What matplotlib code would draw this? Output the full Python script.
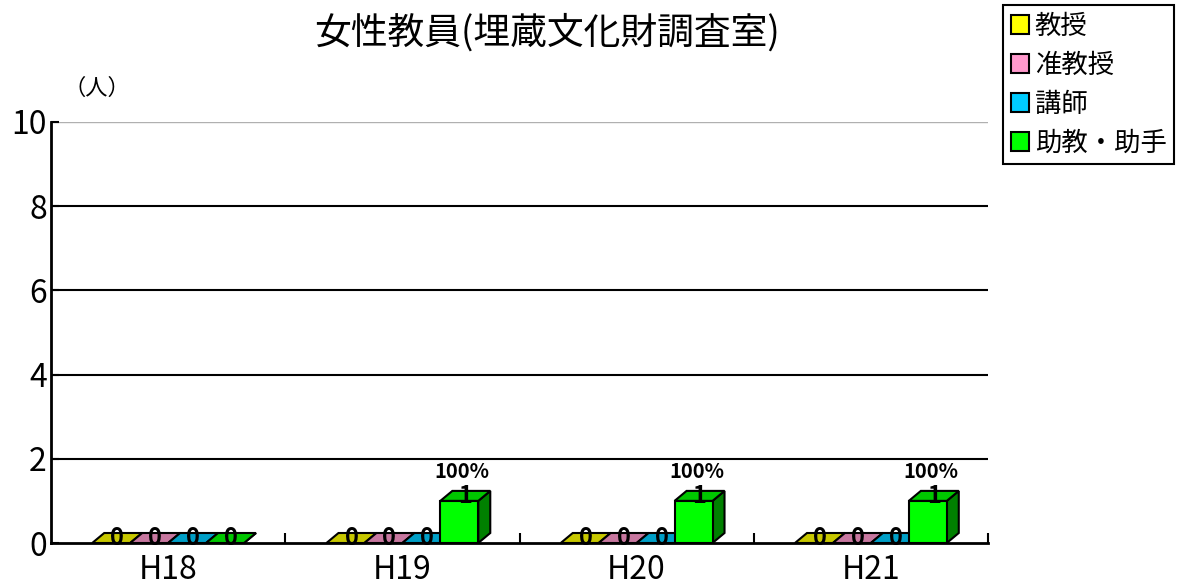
import matplotlib.pyplot as plt
from matplotlib.patches import Polygon, Patch
import matplotlib.colors as mcolors

plt.rcParams['font.family'] = ['Noto Sans CJK JP', 'DejaVu Sans']

# data
years = ['H18', 'H19', 'H20', 'H21']
names = ['教授', '准教授', '講師', '助教・助手']
professor = [0, 0, 0, 0]
assoc_prof = [0, 0, 0, 0]
lecturer = [0, 0, 0, 0]
assistant = [0, 1, 1, 1]
colors = ['#FFFF00', '#FF99CC', '#00CCFF', '#00FF00']

series = [professor, assoc_prof, lecturer, assistant]
totals = [sum(s[i] for s in series) for i in range(len(years))]


def shade(c, f):
    r, g, b = mcolors.to_rgb(c)
    return (r * f, g * f, b * f)


fig = plt.figure(figsize=(11.78, 5.88), dpi=100)
ax = fig.add_axes([51 / 1178, 45 / 588, 937 / 1178, 421 / 588])

barw = 0.162
dx = 12 / 234.25   # depth in x (data units)
dy = 10 / 42.1     # depth in y (data units)

for i, (vals, col) in enumerate(zip(series, colors)):
    for j, v in enumerate(vals):
        x0 = j + (i - 2) * barw
        x1 = x0 + barw
        # side face
        ax.add_patch(Polygon([(x1, 0), (x1 + dx, dy), (x1 + dx, v + dy), (x1, v)],
                             closed=True, facecolor=shade(col, 0.5),
                             edgecolor='black', lw=1.5, zorder=3 + i))
        # top face
        ax.add_patch(Polygon([(x0, v), (x0 + dx, v + dy), (x1 + dx, v + dy), (x1, v)],
                             closed=True, facecolor=shade(col, 0.78),
                             edgecolor='black', lw=1.5, zorder=3 + i))
        if v > 0:
            ax.bar(x0, v, width=barw, align='edge', color=col,
                   edgecolor='black', lw=1.5, zorder=3 + i)
        ax.annotate(str(v), (x0 + barw / 2 + dx / 2, v), xytext=(0, 5),
                    textcoords='offset pixels', ha='center', va='center',
                    fontsize=17, fontweight='bold', zorder=10)
        if v > 0 and totals[j] > 0:
            ax.annotate('%d%%' % round(v / totals[j] * 100), (x0 + barw / 2, v),
                        xytext=(3, 29), textcoords='offset pixels',
                        ha='center', va='center', fontsize=14.5,
                        fontweight='bold', zorder=10)

ax.set_xlim(-0.5, 3.5)
ax.set_ylim(0, 10)
for y in [2, 4, 6, 8]:
    ax.axhline(y, color='black', lw=1.5, zorder=1)
ax.axhline(10, color='#b0b0b0', lw=1, zorder=1)

ax.spines['top'].set_visible(False)
ax.spines['right'].set_visible(False)
ax.spines['left'].set_linewidth(2)
ax.spines['bottom'].set_linewidth(2)

ax.set_yticks([0, 2, 4, 6, 8, 10])
ax.tick_params(axis='y', direction='in', length=6, width=1.5, labelsize=23, pad=3)
ax.set_xticks([0.5, 1.5, 2.5, 3.5])
ax.set_xticklabels([])
ax.set_xticks(range(len(years)), minor=True)
ax.set_xticklabels(years, minor=True)
ax.tick_params(axis='x', which='major', direction='in', length=7, width=1.5)
ax.tick_params(axis='x', which='minor', length=0, labelsize=23, pad=8)

fig.text(547 / 1178, 1 - 33 / 588, '女性教員(埋蔵文化財調査室)', ha='center',
         va='center', fontsize=26.5)
fig.text(97 / 1178, 1 - 88 / 588, '（人）', ha='center', va='center', fontsize=16)

handles = [Patch(facecolor=c, edgecolor='black', lw=1.5) for c in colors]
leg = fig.legend(handles, names, loc='upper left',
                 bbox_to_anchor=(1003 / 1178, 1 - 5 / 588), borderaxespad=0,
                 fontsize=19, handlelength=0.7, handleheight=0.7,
                 handletextpad=0.2, labelspacing=0.45, borderpad=0.3,
                 fancybox=False, framealpha=1)
leg.get_frame().set_edgecolor('black')
leg.get_frame().set_linewidth(1.5)

fig.savefig('out.png', dpi=100)
